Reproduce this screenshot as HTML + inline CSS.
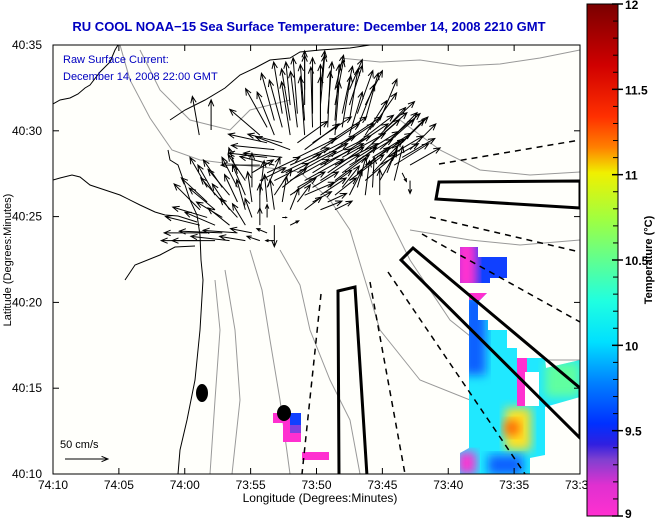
<!DOCTYPE html>
<html><head><meta charset="utf-8"><style>
body{margin:0;background:#fff;}
svg{display:block;font-family:"Liberation Sans",sans-serif;}
</style></head><body>
<svg id="chart" width="660" height="519" viewBox="0 0 660 519" xmlns="http://www.w3.org/2000/svg">
<defs>
<linearGradient id="cb" x1="0" y1="0" x2="0" y2="1">
<stop offset="0" stop-color="#7a0000"/><stop offset="0.12" stop-color="#d00000"/><stop offset="0.22" stop-color="#ff3000"/><stop offset="0.28" stop-color="#ff8000"/><stop offset="0.33" stop-color="#f0f000"/><stop offset="0.42" stop-color="#a0ff40"/><stop offset="0.5" stop-color="#60ff90"/><stop offset="0.58" stop-color="#20ffe0"/><stop offset="0.66" stop-color="#00e0ff"/><stop offset="0.74" stop-color="#0080ff"/><stop offset="0.82" stop-color="#0030ff"/><stop offset="0.86" stop-color="#3020e0"/><stop offset="0.89" stop-color="#8040d0"/><stop offset="0.94" stop-color="#e030d0"/><stop offset="1" stop-color="#ff30d0"/>
</linearGradient>
<filter id="bl" x="-20%" y="-20%" width="140%" height="140%"><feGaussianBlur stdDeviation="5"/></filter>
<clipPath id="mainclip"><polygon points="469,293 487,293 478,302 478,320 488,320 488,330 507,330 507,348 517,348 517,358 545,358 546,368 580,360 580,397 545,407 545,455 530,458 530,474 460,474 460,453 469,448"/></clipPath>
<clipPath id="p1clip"><polygon points="460,247 478,247 478,257 507,257 507,278 490,278 490,283 460,283"/></clipPath>
<clipPath id="plot"><rect x="53" y="45" width="527" height="429"/></clipPath>
</defs>
<rect x="53" y="45" width="527" height="429" fill="#fffffb"/>
<text x="309" y="31" text-anchor="middle" font-size="13" font-weight="bold" fill="#0000c0">RU COOL  NOAA−15  Sea Surface Temperature:  December 14, 2008 2210 GMT</text>
<g clip-path="url(#plot)">
<g id="contours" fill="none" stroke="#999" stroke-width="1">
<polyline points="340,58 380,62 420,60 460,66 500,64 540,58 580,50"/>
<polyline points="120,45 130,80 150,118 172,150 200,160 240,165 270,168 300,172"/>
<polyline points="300,172 330,200 350,230 365,280 380,330 420,380 470,400 530,402 580,395"/>
<polyline points="280,250 300,285 310,330 330,380 350,420 360,474"/>
<polyline points="250,250 262,290 270,340 280,400 290,474"/>
<polyline points="215,280 220,330 215,400 210,474"/>
<polyline points="225,270 235,330 240,400 232,474"/>
<polyline points="400,120 440,150 480,170 530,175 580,172"/>
<polyline points="410,230 470,240 520,245 580,240"/>
<polyline points="140,50 160,90 190,120 230,130 250,110 290,100"/>
<polyline points="380,200 410,260 450,320 500,360 580,360"/>
</g>
<g fill="none" stroke="#000" stroke-width="1">
<polyline points="53,104 60,100 70,98 78,94 85,88 90,85 100,72 110,62 115,50 118,45"/>
<polyline points="53,180 60,178 72,175 80,177 90,185 105,190 120,195 140,205 155,212 165,215 178,216 197,222"/>
<polyline points="168,150 170,160 178,165 185,185 190,200 197,215 200,235 201,260 203,280 200,330 195,380 187,420 180,450 178,474"/>
<polyline points="125,280 135,265 160,255 175,247 195,246"/>
<polyline points="170,120 185,110 205,100 225,88 240,75 255,68 270,60 290,58 300,52 320,50 350,48 370,45"/>
</g>
<g>
<g clip-path="url(#p1clip)"><rect x="455" y="240" width="60" height="50" fill="#1040ff"/><rect x="455" y="240" width="22" height="50" fill="#ff30d0" filter="url(#bl)"/></g>
<g clip-path="url(#mainclip)">
<rect x="455" y="285" width="130" height="195" fill="#20e8ff"/>
<rect x="462" y="295" width="24" height="80" fill="#1060ff" filter="url(#bl)"/>
<rect x="505" y="408" width="26" height="42" fill="#ffe020" filter="url(#bl)"/>
<circle cx="512" cy="428" r="8" fill="#ff6000" filter="url(#bl)"/>
<rect x="545" y="362" width="35" height="35" fill="#60ffa0" filter="url(#bl)"/>
<rect x="488" y="455" width="35" height="20" fill="#1060ff" filter="url(#bl)"/>
<rect x="458" y="452" width="18" height="22" fill="#ff30d0" filter="url(#bl)"/>
<rect x="467" y="292" width="22" height="8" fill="#ff30d0"/>
<rect x="517" y="358" width="10" height="48" fill="#ff30d0"/>
<rect x="525" y="372" width="14" height="34" fill="#fff"/>
</g>
<rect x="273" y="413" width="28" height="10" fill="#ff30d0"/><rect x="283" y="423" width="18" height="19" fill="#ff30d0"/><rect x="290" y="413" width="11" height="12" fill="#1040ff"/><rect x="290" y="425" width="11" height="8" fill="#8040e0"/>
<rect x="302" y="452" width="27" height="8" fill="#ff30d0"/>
</g>
<g fill="none" stroke="#000">
<polygon points="439,182 580,181 580,208 436,199" stroke-width="3"/>
<polygon points="401,260 413,248 580,388 580,438" stroke-width="3"/>
<polygon points="338,291 355,287 367,476 339,476" stroke-width="3"/>
</g>
<g fill="none" stroke="#000" stroke-width="1.5" stroke-dasharray="6,5">
<line x1="439" y1="164" x2="580" y2="140"/>
<line x1="430" y1="217" x2="580" y2="252"/>
<line x1="422" y1="234" x2="580" y2="322"/>
<line x1="388" y1="272" x2="525" y2="474"/>
<line x1="370" y1="282" x2="405" y2="474"/>
<line x1="321" y1="294" x2="302" y2="474"/>
</g>
<ellipse cx="202" cy="393" rx="6" ry="9" fill="#000"/>
<ellipse cx="284" cy="413" rx="7" ry="8" fill="#000"/>
<g id="arrows" stroke="#000" stroke-width="1" fill="none"></g>
</g>
<text x="63" y="63" font-size="11" fill="#0000c0">Raw Surface Current:</text>
<text x="63" y="80" font-size="11" fill="#0000c0">December 14, 2008 22:00 GMT</text>
<text x="60" y="448" font-size="11" fill="#000">50 cm/s</text>
<g id="scalearrow" stroke="#000" fill="none"></g>
<rect x="53" y="45" width="527" height="429" fill="none" stroke="#000" stroke-width="1"/>
<g id="axes" font-size="12" fill="#000"></g>
<text x="320" y="502" text-anchor="middle" font-size="12">Longitude (Degrees:Minutes)</text>
<text transform="translate(11,260) rotate(-90)" text-anchor="middle" font-size="11">Latitude (Degrees:Minutes)</text>
<rect x="587" y="4" width="31" height="512" fill="url(#cb)" stroke="#000"/>
<g id="cbaxis" font-size="12" font-weight="bold" fill="#000"></g>
<text transform="translate(652,260) rotate(-90)" text-anchor="middle" font-size="11" font-weight="bold">Temperature (°C)</text>
</svg>
<script>
const xTickLabels=["74:10","74:05","74:00","73:55","73:50","73:45","73:40","73:35","73:30"];
const xTickMin=[70,65,60,55,50,45,40,35,30];
const yTickLabels=["40:35","40:30","40:25","40:20","40:15","40:10"];
const yTickMin=[35,30,25,20,15,10];
const cbLabels=["12","11.5","11","10.5","10","9.5","9"];
const cbValues=[12,11.5,11,10.5,10,9.5,9];
// arrows: longitude minutes west of 73°, latitude minutes north of 40°, u (east cm/s), v (north cm/s)
const arrowLon=[53.2,52.0,50.9,49.7,48.6,47.5,46.3,45.2, 54.3,53.2,52.0,50.9,49.7,48.6,47.5,46.3,45.2,44.1, 52.0,50.9,49.7,48.6,47.5,46.3, 50.9,49.7,48.6,47.5,
 53.2,52.0,50.9,49.7,48.6,47.5,46.3,45.2,44.1,42.9, 54.3,53.2,52.0,50.9,49.7,48.6,47.5,46.3,45.2,44.1,42.9,
 55.4,54.3,53.2,52.0,50.9,49.7,48.6,47.5,46.3,45.2,44.1,42.9, 57.7,56.6,55.4,54.3,53.2,52.0,50.9,49.7,48.6,47.5,46.3,45.2,
 58.85,57.7,56.6,55.4,54.3,53.2,52.0,50.9,49.7,48.6, 58.85,57.7,56.6,55.4,54.3,53.2,52.0, 58.85,57.7,56.6,55.4,54.3,53.2, 58.9,58.0,56.0,
 52.6,51.45,50.3,49.15,48.05,46.9,
 53.75,52.6,51.45,50.3,49.15,48.05,46.9,45.75,44.65,
 53.75,52.6,51.45,50.3,49.15,48.05,46.9,45.75,44.65,43.5,
 53.75,52.6,51.45,50.3,49.15,48.05,46.9,45.75,44.65,43.5,
 54.9,53.75,52.6,51.45,50.3,49.15,48.05,46.9,45.75,44.65,43.5,
 58.3,57.15,56.0,54.9,53.75,52.6,51.45,50.3,49.15,48.05,46.9,45.75,
 58.3,57.15,56.0,54.9,53.75,52.6,51.45,50.3,49.15,
 58.3,57.15,56.0,54.9,53.75,52.6,
 58.3,57.15,56.0,54.9,53.75];
const arrowLat=[30.6,30.6,30.6,30.6,30.6,30.6,30.6,30.6, 29.75,29.75,29.75,29.75,29.75,29.75,29.75,29.75,29.75,29.75, 31.5,31.5,31.5,31.5,31.5,31.5, 32.4,32.4,32.4,32.4,
 28.9,28.9,28.9,28.9,28.9,28.9,28.9,28.9,28.9,28.9, 28.0,28.0,28.0,28.0,28.0,28.0,28.0,28.0,28.0,28.0,28.0,
 27.1,27.1,27.1,27.1,27.1,27.1,27.1,27.1,27.1,27.1,27.1,27.1, 26.25,26.25,26.25,26.25,26.25,26.25,26.25,26.25,26.25,26.25,26.25,26.25,
 25.4,25.4,25.4,25.4,25.4,25.4,25.4,25.4,25.4,25.4, 24.5,24.5,24.5,24.5,24.5,24.5,24.5, 23.6,23.6,23.6,23.6,23.6,23.6, 29.75,30.05,27.5,
 31.0,31.0,31.0,31.0,31.0,31.0,
 30.2,30.2,30.2,30.2,30.2,30.2,30.2,30.2,30.2,
 29.3,29.3,29.3,29.3,29.3,29.3,29.3,29.3,29.3,29.3,
 28.45,28.45,28.45,28.45,28.45,28.45,28.45,28.45,28.45,28.45,
 27.55,27.55,27.55,27.55,27.55,27.55,27.55,27.55,27.55,27.55,27.55,
 26.7,26.7,26.7,26.7,26.7,26.7,26.7,26.7,26.7,26.7,26.7,26.7,
 25.85,25.85,25.85,25.85,25.85,25.85,25.85,25.85,25.85,
 24.95,24.95,24.95,24.95,24.95,24.95,
 24.05,24.05,24.05,24.05,24.05];
const arrowU=[-15,-10,-5,0,5,10,15,20, -35,-20,-10,-5,0,5,15,25,30,30, -5,0,5,10,15,20, 0,5,10,15,
 -50,-40,40,45,45,45,40,40,35,30, -45,-40,45,50,50,50,50,45,45,40,35,
 -20,30,40,45,45,45,40,40,35,20,10,0, -20,-25,-15,5,20,30,35,30,25,15,5,0,
 -30,-30,-20,-10,0,-5,10,20,25,20, -40,-35,-25,-15,0,0,10, -45,-50,-45,-30,-15,-10, -8,0,-10,
 -10,-5,0,5,12,18,
 -25,-15,-8,-2,3,10,20,28,32,
 -45,-40,35,45,45,45,42,40,35,30,
 -45,-45,45,50,50,50,48,45,42,38,
 25,38,45,45,45,42,40,38,30,15,5,
 -20,-22,-18,0,15,28,32,30,28,20,10,2,
 -30,-25,-15,-5,-3,5,15,22,22,
 -40,-30,-20,-8,0,5,
 -50,-50,-40,-25,-12];
const arrowV=[55,60,65,65,65,60,55,48, 30,50,62,68,68,62,50,40,32,25, 50,58,58,52,46,40, 45,45,40,35,
 5,15,30,30,30,30,35,35,35,30, 0,10,20,25,25,25,30,30,25,25,20,
 30,15,20,25,25,30,30,30,30,35,40,-15, 35,30,35,40,30,20,15,20,20,30,40,30,
 30,25,30,35,30,35,25,15,10,10, 10,15,20,25,20,-25,5, 0,0,5,5,5,0, 45,35,30,
 60,65,65,60,55,50,
 45,55,65,70,65,60,50,40,30,
 10,10,25,30,30,30,32,35,35,30,
 5,5,22,25,25,28,30,28,25,22,
 15,18,22,25,28,30,30,30,32,38,-10,
 35,32,35,40,35,22,18,18,20,25,35,35,
 28,28,32,35,32,30,20,12,10,
 12,18,22,22,15,0,
 0,2,3,5,5];
const scaleU=50;

const NS="http://www.w3.org/2000/svg";
const xs=m=>53+(70-m)*13.175;
const ys=m=>45+(35-m)*17.16;
const pxPerCm=0.86;
const cbY=v=>4+(12-v)*(512/3);
function mk(tag,parent,attrs){const e=document.createElementNS(NS,tag);for(const k in attrs)e.setAttribute(k,attrs[k]);parent.appendChild(e);return e;}
function arrowPath(x,y,u,v){
  const dx=u*pxPerCm,dy=-v*pxPerCm;const L=Math.hypot(dx,dy)||1;const ex=x+dx,ey=y+dy;
  const h=Math.min(7,L*0.35),ca=Math.cos(0.4),sa=Math.sin(0.4);const ux=-dx/L,uy=-dy/L;
  const a1x=ex+h*(ux*ca-uy*sa),a1y=ey+h*(ux*sa+uy*ca),a2x=ex+h*(ux*ca+uy*sa),a2y=ey+h*(-ux*sa+uy*ca);
  return `M${x},${y}L${ex},${ey}M${a1x},${a1y}L${ex},${ey}L${a2x},${a2y}`;
}
const ag=document.getElementById('arrows');


for(let i=0;i<arrowLon.length;i++){
  const p=mk('path',ag,{d:arrowPath(xs(arrowLon[i]),ys(arrowLat[i]),arrowU[i],arrowV[i])});
  
  
}
const sa=document.getElementById('scalearrow');
mk('path',sa,{d:arrowPath(65,459,scaleU,0)});
const ax=document.getElementById('axes');


xTickMin.forEach((m,i)=>{
  const x=xs(m);
  const t=mk('line',ax,{x1:x,y1:474,x2:x,y2:468,stroke:'#000'});
  
  
  mk('line',ax,{x1:x,y1:45,x2:x,y2:51,stroke:'#000'});
  const l=mk('text',ax,{x:x,y:489,'text-anchor':'middle'});l.textContent=xTickLabels[i];
  
  
});
yTickMin.forEach((m,i)=>{
  const y=ys(m);
  const t=mk('line',ax,{x1:53,y1:y,x2:59,y2:y,stroke:'#000'});
  
  
  mk('line',ax,{x1:580,y1:y,x2:574,y2:y,stroke:'#000'});
  const l=mk('text',ax,{x:42,y:y+4,'text-anchor':'end'});l.textContent=yTickLabels[i];
  
  
});
const cg=document.getElementById('cbaxis');


cbValues.forEach((v,i)=>{
  const y=cbY(v);
  mk('line',cg,{x1:612,y1:y,x2:623,y2:y,stroke:'#000','stroke-width':1.5});
  const l=mk('text',cg,{x:625,y:Math.min(y+5,518)});l.textContent=cbLabels[i];
  
  
  if(i<cbValues.length-1){for(let k=1;k<5;k++){const yy=y+k*(512/3)/10;mk('line',cg,{x1:613,y1:yy,x2:618,y2:yy,stroke:'#000'});}}
});
</script>
</body></html>
